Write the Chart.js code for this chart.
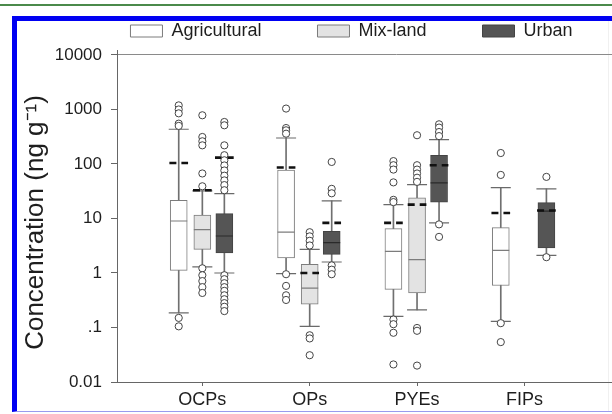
<!DOCTYPE html>
<html>
<head>
<meta charset="utf-8">
<title>Concentration box plot</title>
<script src="https://cdn.jsdelivr.net/npm/chart.js@4.4.0/dist/chart.umd.min.js"></script>
<style>
    html, body { margin: 0; padding: 0; background: #fff; overflow: hidden; }
    #page { position: relative; width: 612px; height: 414px; overflow: hidden; background: #fff; }
    #topline { position: absolute; left: 0; top: 4px; width: 612px; height: 2px; background: #4b8a4b; }
    #frame { position: absolute; left: 12px; top: 16px; width: 640px; height: 390px;
             border-left: 5px solid #0000f2; border-top: 5px solid #0000f2; border-bottom: 1px solid #9a9aee; }
    #rightline { position: absolute; left: 608px; top: 21px; width: 1px; height: 390px; background: #f0f0f0; }
    #chart { position: absolute; left: 17px; top: -34px; }
</style>
</head>
<body>
<div id="page">
    <div id="topline"></div>
    <div id="frame"></div>
    <div id="rightline"></div>
    <canvas id="chart" width="669" height="451"></canvas>
</div>
<script>
// Categories and axis labels
const categories = ['OCPs', 'OPs', 'PYEs', 'FIPs'];
const yTickValues = [0.01, 0.1, 1, 10, 100, 1000, 10000];
const yTickLabels = ['0.01', '.1', '1', '10', '100', '1000', '10000'];

// Agricultural (per category: OCPs, OPs, PYEs, FIPs)
const agriLow = [0.185, 0.97, 0.16, 0.13];
const agriQ1 = [1.12, 1.9, 0.5, 0.59];
const agriMedian = [9.0, 5.6, 2.5, 2.6];
const agriQ3 = [21.6, 77, 6.5, 6.8];
const agriHigh = [434, 300, 18, 37];
const agriMean = [104, 86, 8.3, 12.6];
const agriOutliers = [
    [1190, 1000, 850, 550, 500, 0.15, 0.105],
    [1040, 457, 415, 360, 0.95, 0.58, 0.39, 0.32],
    [113, 95, 79, 46, 22, 20, 0.14, 0.115, 0.08, 0.021],
    [159, 63, 0.12, 0.054]
];

// Mix-land (no FIPs box)
const mixLow = [1.29, 0.105, 0.21, null];
const mixQ1 = [2.72, 0.267, 0.43, null];
const mixMedian = [6.25, 0.53, 1.76, null];
const mixQ3 = [11.5, 1.44, 24, null];
const mixHigh = [32, 2.72, 42, null];
const mixMean = [33, 1.0, 18, null];
const mixOutliers = [
    [783, 313, 261, 220, 67, 39, 1.22, 0.91, 0.71, 0.55, 0.43],
    [5.6, 4.7, 3.9, 3.2, 0.072, 0.063, 0.031],
    [337, 95, 79, 67, 56, 47, 0.098, 0.087, 0.02],
    []
];

// Urban
const urbLow = [1.0, 1.59, 8.3, 2.1];
const urbQ1 = [2.33, 2.2, 20, 2.9];
const urbMedian = [4.77, 3.6, 45, 13.7];
const urbQ3 = [12.3, 5.8, 144, 19.6];
const urbHigh = [28.6, 21, 280, 35];
const urbMean = [131, 8.3, 95, 14];
const urbOutliers = [
    [590, 513, 220, 145, 117, 94, 76, 61, 50, 41, 33, 0.91, 0.77, 0.65, 0.55, 0.47, 0.39, 0.33, 0.28, 0.24, 0.2],
    [109, 35, 29, 1.38, 1.15, 0.95],
    [535, 466, 386, 325, 7.8, 4.6],
    [58, 1.95]
];

// Each land use sits at a small offset from the category tick
const groups = [
    { name: 'Agricultural', shift: -0.22, low: agriLow, q1: agriQ1, median: agriMedian, q3: agriQ3, high: agriHigh, mean: agriMean, outliers: agriOutliers,
      fill: '#ffffff', edge: '#7c7c7c', medianColor: '#7c7c7c' },
    { name: 'Mix-land', shift: 0, low: mixLow, q1: mixQ1, median: mixMedian, q3: mixQ3, high: mixHigh, mean: mixMean, outliers: mixOutliers,
      fill: '#e3e3e3', edge: '#7c7c7c', medianColor: '#7c7c7c' },
    { name: 'Urban', shift: 0.205, low: urbLow, q1: urbQ1, median: urbMedian, q3: urbQ3, high: urbHigh, mean: urbMean, outliers: urbOutliers,
      fill: '#555555', edge: '#444444', medianColor: '#2a2a2a' }
];

const meanHalf = 0.087;
const datasets = [];

groups.forEach(g => {
    const xs = categories.map((c, i) => i + 1 + g.shift);
    const has = i => g.q1[i] !== null;
    const idx = categories.map((c, i) => i).filter(has);

    // whisker stems (thin floating bars behind the box)
    datasets.push({
        type: 'bar', order: 6, grouped: false, barThickness: 1,
        backgroundColor: '#707070', borderWidth: 0,
        data: idx.map(i => ({ x: xs[i], y: [g.low[i], g.high[i]] }))
    });
    // boxes
    datasets.push({
        type: 'bar', label: g.name, isBox: true, order: 5, grouped: false, barThickness: 17,
        backgroundColor: g.fill, borderColor: g.edge, borderWidth: 1, borderSkipped: false,
        data: idx.map(i => ({ x: xs[i], y: [g.q1[i], g.q3[i]] }))
    });
    // medians
    datasets.push({
        type: 'scatter', order: 4, pointStyle: 'line', pointRadius: 8.5, borderColor: g.medianColor, borderWidth: 1.2,
        data: idx.map(i => ({ x: xs[i], y: g.median[i] }))
    });
    // whisker caps
    datasets.push({
        type: 'scatter', order: 4, pointStyle: 'line', pointRadius: 10, borderColor: '#6a6a6a', borderWidth: 1.2,
        data: idx.flatMap(i => [{ x: xs[i], y: g.low[i] }, { x: xs[i], y: g.high[i] }])
    });
    // means (dashed)
    datasets.push({
        type: 'line', order: 3, borderColor: '#111', borderWidth: 2.6, borderDash: [7, 5], pointRadius: 0, spanGaps: false,
        data: idx.flatMap(i => [
            { x: xs[i] - meanHalf, y: g.mean[i] },
            { x: xs[i] + meanHalf, y: g.mean[i] },
            { x: xs[i] + meanHalf, y: null }
        ])
    });
    // outliers
    datasets.push({
        type: 'scatter', order: 1, pointStyle: 'circle', pointRadius: 3.6, borderWidth: 1,
        borderColor: '#444', backgroundColor: '#fff',
        data: categories.flatMap((c, i) => g.outliers[i].map(v => ({ x: xs[i], y: v })))
    });
});

Chart.defaults.font.family = "'Liberation Sans', Arial, sans-serif";
Chart.defaults.color = '#1e1e1e';

new Chart(document.getElementById('chart'), {
    type: 'bar',
    data: { datasets: datasets },
    options: {
        responsive: false,
        animation: false,
        events: [],
        layout: { padding: 0 },
        plugins: {
            tooltip: { enabled: false },
            legend: {
                position: 'top',
                labels: {
                    font: { size: 18 },
                    boxWidth: 32,
                    boxHeight: 12,
                    padding: 56,
                    filter: (item, data) => data.datasets[item.datasetIndex].isBox === true
                }
            }
        },
        scales: {
            x: {
                type: 'linear',
                min: 0.205,
                max: 5.401,
                offset: false,
                grid: { display: true, drawOnChartArea: false, drawTicks: true, tickLength: 4, tickColor: '#666', offset: false },
                border: { display: true, color: '#666', width: 1 },
                afterBuildTicks: scale => { scale.ticks = categories.map((c, i) => ({ value: i + 1 })); },
                afterFit: scale => { scale.height = 35; },
                ticks: {
                    autoSkip: false,
                    maxRotation: 0,
                    padding: 3,
                    font: { size: 18 },
                    callback: value => categories[value - 1]
                }
            },
            y: {
                type: 'logarithmic',
                min: 0.01,
                max: 12350,
                grid: {
                    color: c => (c.tick && c.tick.value === 10000 ? '#8a8a8a' : 'rgba(0,0,0,0)'),
                    tickColor: '#666',
                    tickLength: 6
                },
                border: { display: true, color: '#666', width: 1 },
                afterBuildTicks: scale => { scale.ticks = yTickValues.map(v => ({ value: v })); },
                afterFit: scale => { scale.width = 100; },
                ticks: {
                    autoSkip: false,
                    padding: 9,
                    font: { size: 17 },
                    callback: (value, index) => yTickLabels[index]
                },
                title: {
                    display: true,
                    // trailing en space nudges the rotated title a little lower, as in the original
                    text: 'Concentration (ng g\u207B\u00B9)\u2002',
                    font: { size: 26 },
                    padding: { top: 3, bottom: 0 }
                }
            }
        }
    }
});
</script>
</body>
</html>
